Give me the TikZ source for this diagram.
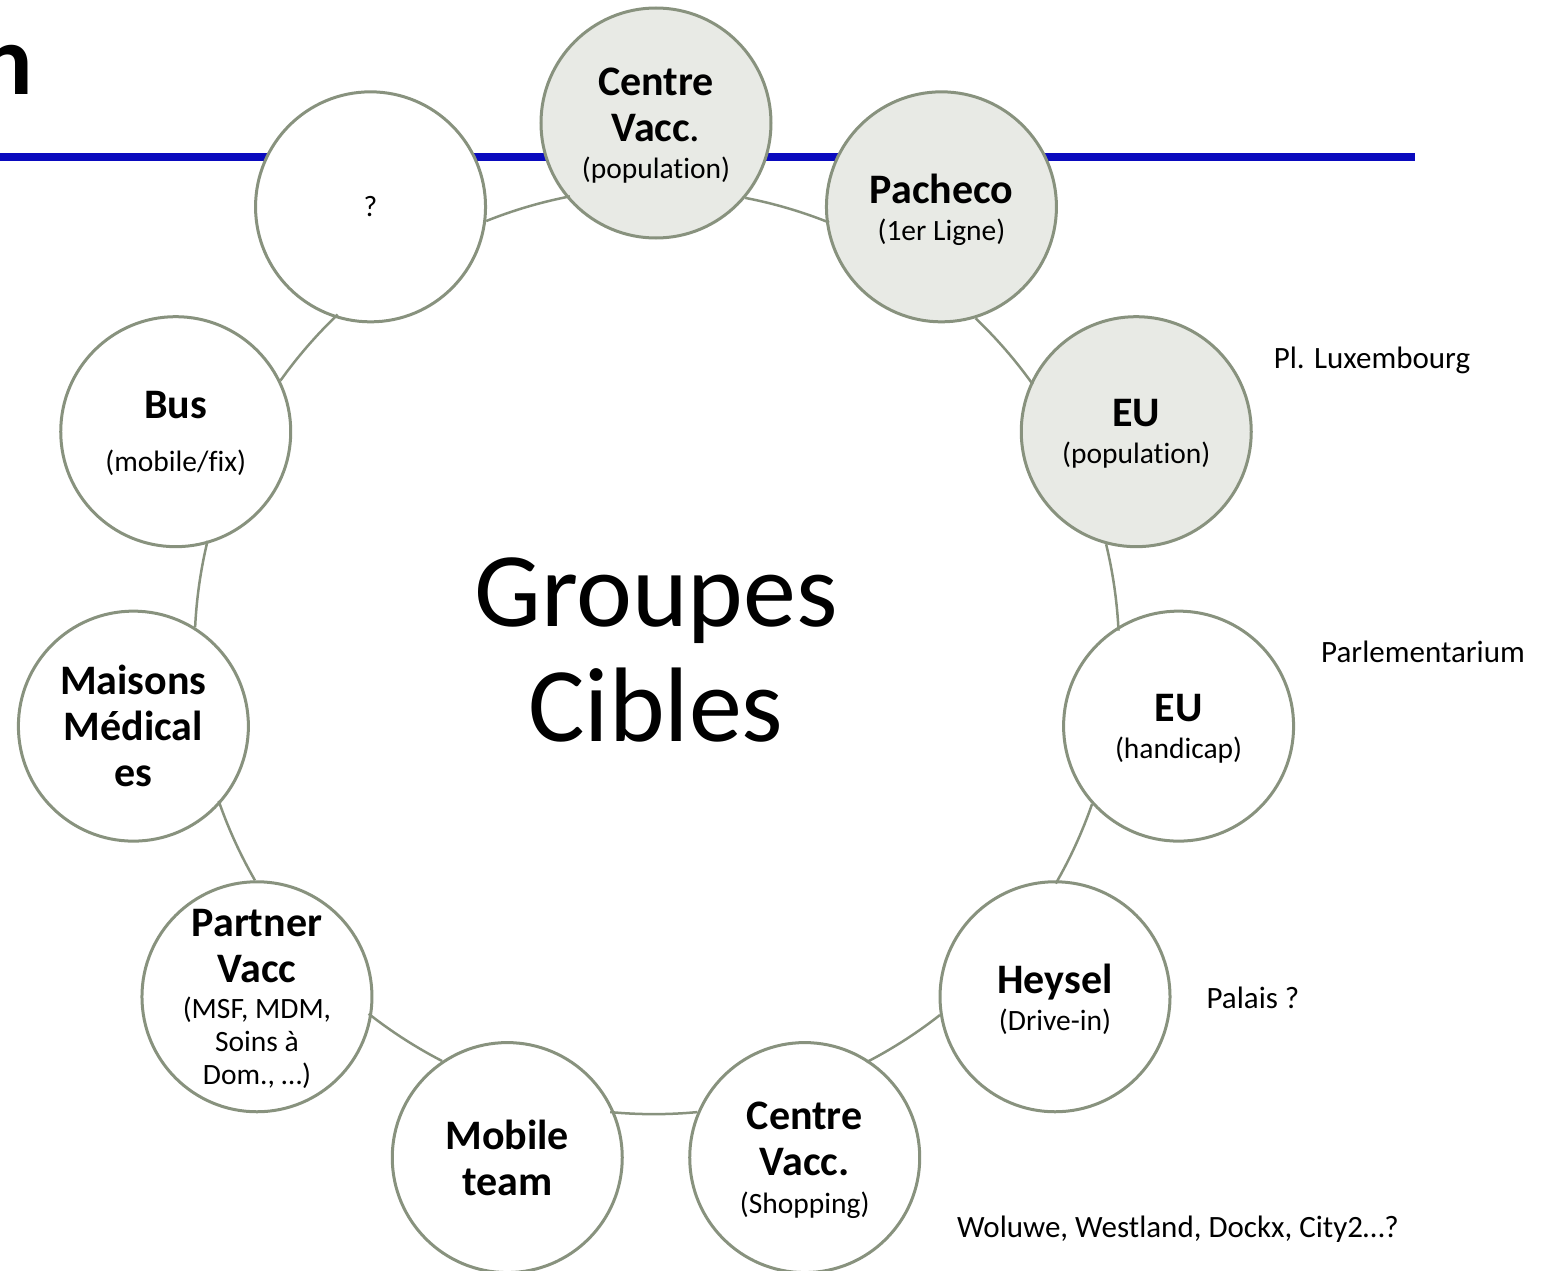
\documentclass[tikz,border=0pt]{standalone}
\usepackage{fontspec}
\setmainfont{Carlito}[Ligatures=NoCommon]
\definecolor{ringc}{RGB}{136,146,126}
\definecolor{fillg}{RGB}{232,234,229}
\definecolor{bluel}{RGB}{10,10,190}
\newcommand\mysub{\mdseries\fontsize{29.5}{33}\selectfont}
\newcommand\nodp[1]{\raisebox{0pt}[\height][0pt]{#1}}
\begin{document}
\begin{tikzpicture}[x=1pt,y=1pt,
  bub/.style={circle, draw=ringc, line width=3pt, fill=white, minimum size=230pt, inner sep=0pt, align=center, font=\bfseries\fontsize{42}{46}\selectfont},
  hl/.style={fill=fillg},
  ringline/.style={draw=ringc, line width=2.5pt},
  side/.style={font=\fontsize{31}{36}\selectfont, inner sep=0pt, anchor=base}]
\useasboundingbox (-656,-619) rectangle (891,651);
\node[anchor=base east, font=\bfseries\fontsize{100}{110}\selectfont, inner sep=0pt] (title) at (-623,556) {n};
\coordinate (bl) at (-656,494);
\coordinate (br) at (759,494);
\draw[bluel, line width=7.5pt] (bl) -- (br);

\node[bub,hl] (c1) at (90:528) {Centre\\Vacc{\mdseries .}\\[-9pt]{\mysub\nodp{(population)}}};
\node[bub,hl] (c2) at (57.2727:528) {Pacheco\\[-9pt]{\mysub\nodp{(1er Ligne)}}};
\node[bub,hl] (c3) at (24.5455:528) {EU\\[-9pt]{\mysub\nodp{(population)}}};
\node[bub] (c4) at (-8.1818:528) {EU\\[-9pt]{\mysub\nodp{(handicap)}}};
\node[bub] (c5) at (-40.9091:528) {Heysel\\[-9pt]{\mysub\nodp{(Drive-in)}}};
\node[bub] (c6) at (-73.6364:528) {Centre\\Vacc.\\[-8pt]{\mysub\nodp{(Shopping)}}};
\node[bub] (c7) at (-106.3636:528) {Mobile\\team};
\node[bub] (c8) at (-139.0909:528) {Partner\\Vacc\\[-10pt]{\mysub (MSF, MDM,}\\[-13pt]{\mysub Soins à}\\[-13pt]{\mysub\nodp{Dom., …)}}};
\node[bub] (c9) at (-171.8182:528) {Maisons\\Médical\\es};
\node[bub] (c10) at (155.4545:528) {Bus\\[7pt]{\mysub\nodp{(mobile/fix)}}};
\node[bub] (c11) at (122.7273:528) {\mysub ?};

\foreach \i in {1,...,11}{
  \pgfmathsetmacro\a{90-32.7272727*(\i-1)}
  \pgfmathsetmacro\b{\a-32.7272727}
  \pgfmathsetmacro\s{\a-130.31}
  \pgfmathsetmacro\sa{\a-10.94}
  \pgfmathsetmacro\ea{\b+10.94}
  \draw[ringline] (c\i.\s) arc[start angle=\sa, end angle=\ea, radius=462pt];
}

\node[font=\fontsize{106}{115}\selectfont, align=center, inner sep=0pt] (center) at (0,1) {Groupes\\Cibles};

\node[side] (l1) at (716,283) {Pl. Luxembourg};
\node[side] (l2) at (767,-11) {Parlementarium};
\node[side] (l3) at (597,-357) {Palais ?};
\node[side] (l4) at (522,-586) {Woluwe, Westland, Dockx, City2…?};
\end{tikzpicture}
\end{document}
